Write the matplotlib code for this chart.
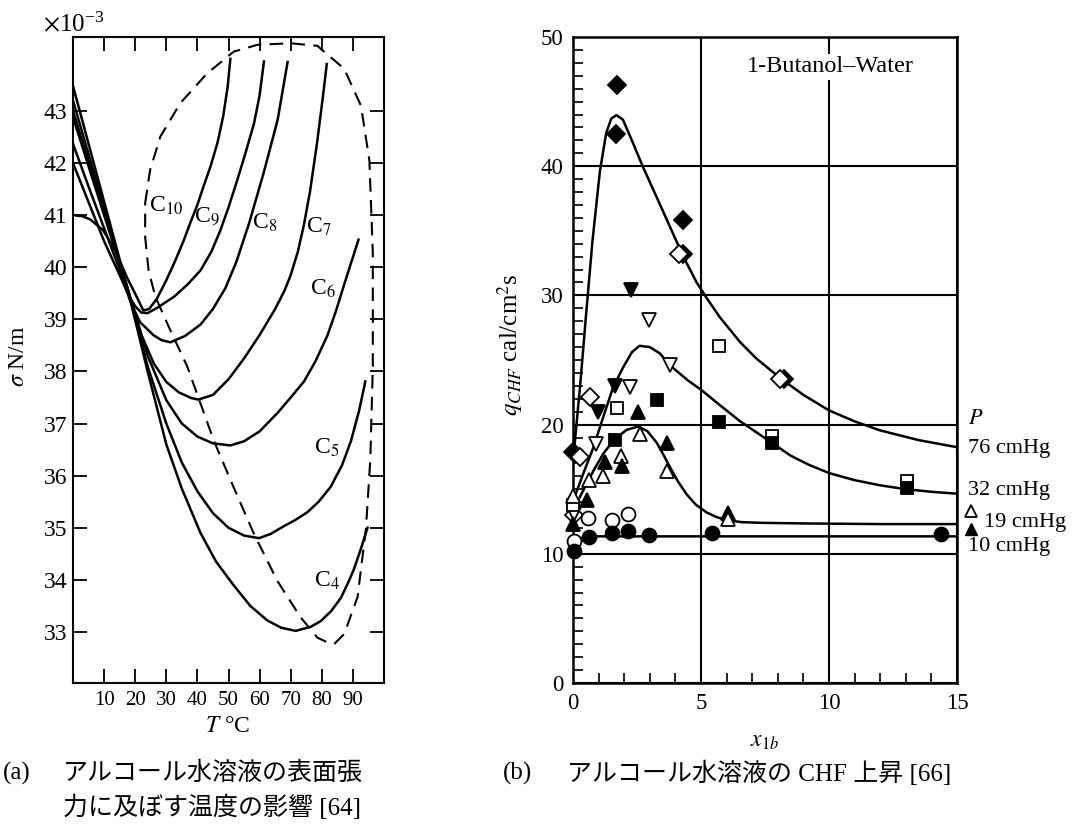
# ============================================================
# Surface tension of aqueous alcohols (a) and CHF rise (b)
# ============================================================

import numpy as np
import matplotlib
matplotlib.use("Agg")
import matplotlib.pyplot as plt
from matplotlib.ticker import MultipleLocator

plt.rcParams["font.family"] = ["Liberation Serif", "Noto Sans CJK JP"]
plt.rcParams["mathtext.fontset"] = "stix"

# ============================================================
# 1. DATA (a): sigma [1e-3 N/m] vs T [deg C]
# ============================================================

c10_t = [0, 3, 5.5, 9.7, 13.5, 17.4, 20.6, 22.6, 24.5, 27, 30, 32.9, 35.5, 37.7, 40,
         41.9, 44.3, 46.5, 48.3, 49.7, 50.6]
c10_s = [41.0, 40.98, 40.92, 40.71, 40.33, 39.8, 39.42, 39.17, 39.2, 39.4, 39.75, 40.13,
         40.5, 40.85, 41.2, 41.54, 41.95, 42.4, 42.9, 43.45, 44.0]

c9_t = [0, 5, 10, 15, 18, 20, 22, 24, 27, 32.4, 37, 41, 44.5, 47.4, 50, 52.8, 55.5,
        58.2, 60, 61.4]
c9_s = [42.0, 41.25, 40.5, 39.85, 39.45, 39.25, 39.13, 39.12, 39.22, 39.43, 39.68, 39.94,
        40.3, 40.71, 41.15, 41.67, 42.2, 42.76, 43.3, 43.95]

c8_t = [0, 5, 10, 15, 18.4, 21.5, 25.8, 28.5, 31.3, 36, 41, 45, 49, 52.5, 56.6, 61.3,
        65.8, 69]
c8_s = [42.37, 41.55, 40.75, 39.95, 39.35, 38.95, 38.7, 38.6, 38.56, 38.68, 38.9, 39.2,
        39.6, 40.1, 40.84, 41.81, 42.83, 43.94]

c7_t = [0, 5, 10, 15, 17.5, 22, 26, 30, 34, 38, 40.3, 45, 50, 55, 60, 65, 68, 70, 72.3,
        74.2, 76.2, 78.5, 80.2, 81.6]
c7_s = [42.88, 41.94, 41.0, 40.07, 39.6, 38.7, 38.15, 37.8, 37.6, 37.49, 37.46, 37.55,
        37.85, 38.25, 38.7, 39.2, 39.55, 39.85, 40.3, 40.8, 41.45, 42.4, 43.2, 43.9]

c6_t = [0, 5, 10, 15, 17.5, 24, 30, 35, 40, 45, 50.6, 55, 60, 65.7, 70, 74.3, 78, 81.8,
        84.5, 87.2, 89.5, 91.8]
c6_s = [43.0, 42.03, 41.06, 40.09, 39.6, 38.3, 37.45, 37.0, 36.75, 36.62, 36.58, 36.66,
        36.85, 37.2, 37.5, 37.81, 38.2, 38.69, 39.15, 39.67, 40.1, 40.53]

c5_t = [0, 5, 10, 15, 17.5, 24, 30, 35, 40, 45, 50, 55, 59.8, 63.5, 67.8, 71.5, 75.4,
        79, 82.9, 86.5, 89.4, 92, 94]
c5_s = [43.2, 42.17, 41.14, 40.11, 39.6, 38.1, 37.0, 36.25, 35.7, 35.28, 35.0, 34.85,
        34.8, 34.88, 35.03, 35.15, 35.3, 35.5, 35.79, 36.2, 36.67, 37.25, 37.81]

c4_t = [0, 5, 10, 15, 17.5, 24, 30, 35, 41, 46, 51.6, 57, 62.5, 67, 71.6, 76.5, 79.7,
        83, 86.1, 88.5, 90.3, 92.6, 94.7]
c4_s = [43.48, 42.37, 41.26, 40.15, 39.6, 38.0, 36.6, 35.75, 34.9, 34.35, 33.9, 33.5,
        33.22, 33.08, 33.02, 33.1, 33.21, 33.4, 33.65, 33.95, 34.2, 34.6, 35.0]

# dashed envelope of the minima (closed loop)
env_t = [23.2, 24.8, 28.1, 34.5, 43.1, 51.7, 59.3, 70, 78.6, 87.2, 92.6, 95.3, 96.4,
         96.4, 95.6, 94.2, 91.5, 87.2, 84, 81.8, 78.6, 73.2, 65.7, 58.2, 51.7, 45.3,
         36.7, 31.3, 26.5, 24.3, 23.2, 23.2]
env_s = [41.23, 41.87, 42.51, 43.15, 43.72, 44.14, 44.27, 44.3, 44.25, 43.81, 43.1,
         42.05, 40.29, 38.08, 36.31, 34.99, 33.67, 32.96, 32.77, 32.8, 32.89, 33.28,
         33.98, 34.88, 35.77, 36.67, 38.1, 38.79, 39.43, 39.94, 40.58, 41.23]

curve_names = ["C$_{10}$", "C$_9$", "C$_8$", "C$_7$", "C$_6$", "C$_5$", "C$_4$"]
name_t = [30, 43, 61.6, 79, 80.4, 81.6, 81.6]
name_s = [41.17, 40.98, 40.85, 40.77, 39.58, 36.54, 33.98]

# ============================================================
# 2. DATA (b): q_CHF [cal/cm2 s] vs x_1b
# ============================================================

fit76_x = [0.03, 0.15, 0.3, 0.51, 0.76, 1.05, 1.3, 1.5, 1.7, 1.95, 2.3, 2.72, 3.27,
           3.79, 4.31, 4.83, 5.22, 5.74, 6.52, 7.17, 8.16, 9, 10, 11, 12, 13.5, 15]
fit76_q = [17.8, 20.3, 23.5, 28.5, 34.2, 39.6, 42.6, 43.7, 43.95, 43.6, 42.0, 40.0,
           37.6, 35.3, 33.0, 31.0, 29.8, 28.3, 26.4, 25.1, 23.5, 22.3, 21.1, 20.25,
           19.55, 18.8, 18.25]

fit32_x = [0.08, 0.4, 0.79, 1.2, 1.57, 1.95, 2.3, 2.6, 3.0, 3.4, 3.78, 4.5, 5.0, 5.74,
           6.5, 7.76, 8.5, 9.2, 10, 11, 12, 13, 14, 15]
fit32_q = [14.5, 16.2, 18.2, 20.7, 22.9, 24.4, 25.6, 26.1, 26.0, 25.5, 24.6, 23.4,
           22.7, 21.5, 20.3, 18.6, 17.6, 16.9, 16.25, 15.7, 15.3, 15.0, 14.8, 14.65]

fit19_x = [0.27, 0.5, 0.79, 1.2, 1.64, 2.1, 2.55, 2.9, 3.27, 3.55, 3.79, 4.1, 4.44,
           4.8, 5.22, 5.6, 6.0, 6.6, 7.3, 9, 12, 15]
fit19_q = [14.4, 15.3, 16.4, 17.8, 18.9, 19.6, 19.85, 19.5, 18.6, 17.6, 16.7, 15.6,
           14.6, 13.8, 13.2, 12.85, 12.6, 12.45, 12.4, 12.35, 12.3, 12.3]

fit10_x = [0.02, 0.64, 15]
fit10_q = [11.1, 11.35, 11.35]

dia_f_x = [1.7, 1.68, 4.31, 0.01]
dia_f_q = [46.3, 42.5, 35.8, 17.9]
dia_o_x = [0.66, 0.27, 0.05]
dia_o_q = [22.1, 17.5, 13.0]
vtri_f_x = [2.25, 1.64, 0.99]
vtri_f_q = [30.4, 23.0, 21.0]
vtri_o_x = [2.98, 3.78, 2.23, 0.9, 0.05]
vtri_o_q = [28.1, 24.6, 22.9, 18.5, 13.1]
sq_o_x = [5.72, 1.71, 0.01]
sq_o_q = [26.1, 21.3, 13.8]
sq_f_x = [3.27, 5.7, 1.64]
sq_f_q = [21.9, 20.2, 18.8]
tri_o_x = [2.62, 1.86, 1.18, 3.66, 0.64, 0.01]
tri_o_q = [19.3, 17.6, 16.0, 16.4, 15.7, 14.5]
tri_f_x = [2.55, 3.66, 1.9, 1.25, 0.53, 0.01]
tri_f_q = [21.0, 18.6, 16.8, 17.1, 14.2, 12.3]
circ_o_x = [0.6, 1.51, 2.16, 0.02]
circ_o_q = [12.8, 12.6, 13.1, 11.0]
circ_f_x = [0.02, 0.64, 1.51, 2.16, 2.98, 5.42, 14.36]
circ_f_q = [10.2, 11.3, 11.6, 11.8, 11.45, 11.6, 11.5]

# overlapping (half filled looking) pairs
pair_dia_x = [4.2, 8.15]
pair_dia_q = [33.2, 23.5]
pair_sq_x = [7.76, 13.05]
pair_sq_q = [18.8, 15.35]
pair_tri_x = [6.05]
pair_tri_q = [12.9]

pressures = ["76 cmHg", "32 cmHg", "19 cmHg", "10 cmHg"]

# ============================================================
# 3. FIGURE
# ============================================================

W, H = 1072, 825
fig = plt.figure(figsize=(W / 100, H / 100), dpi=100)


def px(x, y):
    return x / W, 1 - y / H


ax1 = fig.add_axes([73 / W, 1 - 683 / H, 311 / W, 646 / H])
ax2 = fig.add_axes([573 / W, 1 - 683 / H, 384 / W, 646 / H])

# ---------------- (a) ----------------
for t, s in [(c10_t, c10_s), (c9_t, c9_s), (c8_t, c8_s), (c7_t, c7_s),
             (c6_t, c6_s), (c5_t, c5_s), (c4_t, c4_s)]:
    ax1.plot(t, s, color="black", lw=1.8)

ax1.plot(env_t, env_s, color="black", lw=1.5, ls=(0, (6.5, 4)))

for name, t, s in zip(curve_names, name_t, name_s):
    ax1.text(t, s, name, fontsize=17, ha="center", va="center")

ax1.set_xlim(0, 100)
ax1.set_ylim(32.02, 44.42)
ax1.set_xticks(range(10, 100, 10))
ax1.set_yticks(range(33, 44))
ax1.tick_params(direction="in", top=True, right=True, length=10, width=1.3)
ax1.tick_params(axis="y", labelsize=17, pad=4)
ax1.tick_params(axis="x", labelsize=15, pad=6)
for sp in ax1.spines.values():
    sp.set_linewidth(1.5)

fig.text(*px(43, 24), r"$\times\mathregular{10^{-3}}$", fontsize=18,
         ha="left", va="center")
fig.text(*px(19, 356), r"$\sigma$ N/m", fontsize=17, rotation=90,
         ha="center", va="center")
fig.text(*px(227, 727), r"$T$ °C", fontsize=17, ha="center", va="center")

# ---------------- (b) ----------------
ax2.plot(fit76_x, fit76_q, color="black", lw=1.8, zorder=3)
ax2.plot(fit32_x, fit32_q, color="black", lw=1.8, zorder=3)
ax2.plot(fit19_x, fit19_q, color="black", lw=1.8, zorder=3)
ax2.plot(fit10_x, fit10_q, color="black", lw=1.8, zorder=3)


def marks(x, q, m, filled, ms):
    ax2.plot(x, q, ls="none", marker=m, ms=ms,
             mfc="black" if filled else "white", mec="black", mew=1.3,
             clip_on=False, zorder=4)


marks(dia_f_x, dia_f_q, "D", True, 9)
marks(dia_o_x, dia_o_q, "D", False, 9)
marks(vtri_f_x, vtri_f_q, "v", True, 10)
marks(vtri_o_x, vtri_o_q, "v", False, 10)
marks(sq_o_x, sq_o_q, "s", False, 9)
marks(sq_f_x, sq_f_q, "s", True, 9)
marks(tri_o_x, tri_o_q, "^", False, 10)
marks(tri_f_x, tri_f_q, "^", True, 10)
marks(circ_o_x, circ_o_q, "o", False, 10)
marks(circ_f_x, circ_f_q, "o", True, 10)

# pairs: filled/open markers slightly shifted
marks(np.array(pair_dia_x) + 0.08, pair_dia_q, "D", True, 9)
marks(np.array(pair_dia_x) - 0.05, pair_dia_q, "D", False, 9)
marks(pair_sq_x, np.array(pair_sq_q) + 0.3, "s", False, 9)
marks(pair_sq_x, np.array(pair_sq_q) - 0.25, "s", True, 9)
marks(pair_tri_x, np.array(pair_tri_q) + 0.25, "^", True, 10)
marks(pair_tri_x, np.array(pair_tri_q) - 0.2, "^", False, 10)

ax2.set_xlim(0, 15)
ax2.set_ylim(0, 50)
ax2.set_xticks([0, 5, 10, 15])
ax2.set_yticks([0, 10, 20, 30, 40, 50])
ax2.xaxis.set_minor_locator(MultipleLocator(1))
ax2.yaxis.set_minor_locator(MultipleLocator(1))
ax2.tick_params(which="both", direction="in", labelsize=16.5, width=1.2)
ax2.tick_params(which="major", length=0, pad=7)
ax2.tick_params(which="minor", length=7)
ax2.grid(True, which="major", color="black", lw=1.5)
for sp in ax2.spines.values():
    sp.set_linewidth(1.8)

ax2.text(10.04, 47.7, "1-Butanol–Water", fontsize=17.5, ha="center", va="center",
         bbox=dict(facecolor="white", edgecolor="none", pad=2))

fig.text(*px(510, 345), r"$q_{CHF}$ cal/cm$^2$s", fontsize=18, rotation=90,
         ha="center", va="center")
fig.text(*px(765, 741), r"$x_{\mathrm{1}b}$", fontsize=17, ha="center", va="center")

fig.text(*px(968, 420), "$P$", fontsize=16, ha="left", va="center")
fig.text(*px(968, 449), pressures[0], fontsize=16, ha="left", va="center")
fig.text(*px(968, 490), pressures[1], fontsize=16, ha="left", va="center")
fig.text(*px(984, 522), pressures[2], fontsize=16, ha="left", va="center")
fig.text(*px(968, 547), pressures[3], fontsize=16, ha="left", va="center")
ax2.plot([15.55], [13.3], ls="none", marker="^", ms=9, mfc="white", mec="black",
         mew=1.3, clip_on=False)
ax2.plot([15.55], [11.95], ls="none", marker="^", ms=9, mfc="black", mec="black",
         clip_on=False)

# ============================================================
# 4. CAPTIONS
# ============================================================

fig.text(*px(3, 773), "(a)", fontsize=18, ha="left", va="center")
fig.text(*px(63, 773), "アルコール水溶液の表面張", fontsize=18, ha="left", va="center")
fig.text(*px(63, 807), "力に及ぼす温度の影響 [64]", fontsize=18, ha="left", va="center")
fig.text(*px(503, 773), "(b)", fontsize=18, ha="left", va="center")
fig.text(*px(567, 773), "アルコール水溶液の CHF 上昇 [66]", fontsize=18,
         ha="left", va="center")

fig.savefig("out.png", dpi=100)
